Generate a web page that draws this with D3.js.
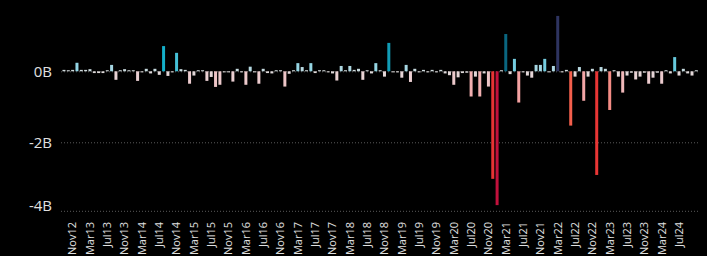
<!DOCTYPE html>
<html><head><meta charset="utf-8">
<script src="https://cdn.jsdelivr.net/npm/d3@7"></script>
<style>html,body{margin:0;padding:0;background:#000;} svg{display:block;}</style>
</head><body><svg id="c" width="707" height="256"></svg>
<script>
// Categories: monthly, Sep 2012 .. Nov 2024
const fmt = d3.timeFormat("%b%y");
const months = d3.timeMonth.range(new Date(2012, 8, 1), new Date(2024, 11, 1)).map(fmt);

// Monthly net values (billions)
const values = [
  0.04, 0.03, 0.04, 0.24, 0.04, 0.04, 0.06, -0.05, -0.05, -0.05,
  0.03, 0.18, -0.24, 0.03, 0.06, 0.03, 0.03, -0.27, -0.03, 0.07,
  -0.06, 0.07, -0.10, 0.71, -0.13, -0.03, 0.52, 0.06, 0.04, -0.35,
  -0.12, 0.03, 0.03, -0.27, -0.16, -0.44, -0.38, -0.03, -0.03, -0.29,
  0.07, -0.03, -0.38, 0.13, -0.03, -0.35, 0.07, -0.05, -0.06, 0.03,
  0.03, -0.43, -0.07, 0.03, 0.23, 0.12, 0.03, 0.23, -0.05, 0.03,
  0.03, -0.03, -0.06, -0.26, 0.15, 0.03, 0.15, 0.04, 0.07, -0.24,
  0.03, -0.06, 0.23, 0.03, -0.15, 0.80, -0.03, -0.03, -0.18, 0.18,
  -0.30, 0.07, -0.03, 0.04, -0.03, 0.04, -0.03, 0.04, -0.06, -0.11,
  -0.38, -0.17, -0.05, -0.04, -0.71, -0.15, -0.71, -0.06, -0.43, -3.03,
  -3.77, 0.03, 1.05, -0.08, 0.35, -0.88, -0.03, -0.12, -0.18, 0.18,
  0.18, 0.35, -0.03, 0.15, 1.56, -0.03, 0.04, -1.53, -0.15, 0.12,
  -0.83, -0.15, 0.07, -2.92, 0.12, 0.07, -1.09, 0.03, -0.15, -0.60,
  -0.12, -0.04, -0.23, -0.15, -0.04, -0.35, -0.18, -0.04, -0.35, 0.03,
  -0.06, 0.40, -0.12, 0.07, -0.06, -0.12, 0.03
];

// Axis tick labels
const tickLabels = ["Nov12","Mar13","Jul13","Nov13","Mar14","Jul14","Nov14","Mar15","Jul15","Nov15",
  "Mar16","Jul16","Nov16","Mar17","Jul17","Nov17","Mar18","Jul18","Nov18","Mar19","Jul19","Nov19",
  "Mar20","Jul20","Nov20","Mar21","Jul21","Nov21","Mar22","Jul22","Nov22","Mar23","Jul23","Nov23",
  "Mar24","Jul24"];
const yTicks = [0, -2, -4];
const yTickLabels = ["0B", "-2B", "-4B"];

const data = months.map((m, i) => ({ m, v: values[i] }));

const svg = d3.select("#c");
svg.append("rect").attr("width", 707).attr("height", 256).attr("fill", "#000");

const x = d3.scaleBand().domain(months).range([61.8, 698.5]).paddingInner(0.31).paddingOuter(0.155);
const y = d3.scaleLinear().domain([-3.93, 1.8]).range([210.8, 7.4]);
const yBottom = y.range()[0];

const posColor = d3.scaleLinear()
  .domain([0, 0.25, 0.7, 1.05, 1.56])
  .range(["#dcdcdc", "#8fd4e4", "#14b2cc", "#0a6680", "#2e3460"])
  .clamp(true);
const negColor = d3.scaleLinear()
  .domain([-3.8, -3.0, -1.5, -0.9, -0.3, 0])
  .range(["#c0103c", "#e83434", "#f4604c", "#f4a0a0", "#ebcfd2", "#dcdcdc"])
  .clamp(true);

// gridlines
svg.append("g").selectAll("line").data(yTicks).join("line")
  .attr("x1", 61).attr("x2", 699)
  .attr("y1", d => Math.min(y(d), yBottom) + 0.5)
  .attr("y2", d => Math.min(y(d), yBottom) + 0.5)
  .attr("stroke", "#5a5a5a").attr("stroke-width", 1).attr("stroke-dasharray", "1,2");

// bars
svg.append("g").selectAll("rect").data(data).join("rect")
  .attr("x", d => x(d.m))
  .attr("width", x.bandwidth())
  .attr("y", d => y(Math.max(0, d.v)))
  .attr("height", d => Math.abs(y(d.v) - y(0)))
  .attr("fill", d => d.v >= 0 ? posColor(d.v) : negColor(d.v));

// y labels
svg.append("g").selectAll("text").data(yTicks).join("text")
  .attr("x", 52)
  .attr("y", d => Math.min(y(d), yBottom - 5.5))
  .attr("dy", "0.35em")
  .attr("text-anchor", "end")
  .attr("font-family", "'Open Sans', sans-serif")
  .attr("font-size", 15)
  .attr("fill", "#e0e0e0")
  .text((d, i) => yTickLabels[i]);

// x labels
svg.append("g").selectAll("text").data(tickLabels).join("text")
  .attr("transform", d => `translate(${x(d) + x.bandwidth() / 2},222) rotate(-90)`)
  .attr("dy", "0.35em")
  .attr("text-anchor", "end")
  .attr("font-family", "'Open Sans', sans-serif")
  .attr("font-size", 11)
  .attr("fill", "#e0e0e0")
  .text(d => d);
</script>
</body></html>
